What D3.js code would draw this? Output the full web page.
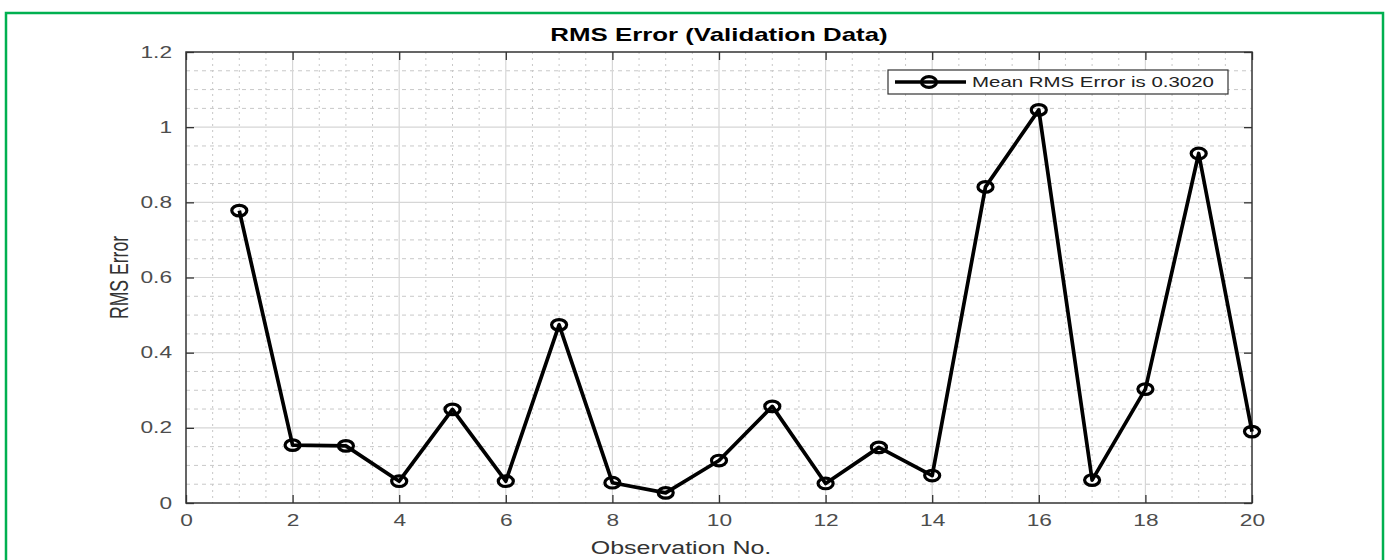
<!DOCTYPE html>
<html>
<head>
<meta charset="utf-8">
<script src="https://cdn.jsdelivr.net/npm/d3@7"></script>
<style>
  html, body { margin: 0; padding: 0; background: #fff; }
  svg { display: block; font-family: "Liberation Sans", Arial, Helvetica, sans-serif; }
</style>
</head>
<body>
<svg id="chart" width="1388" height="560"></svg>
<script>
// RMS error per validation observation
const observations = [1, 2, 3, 4, 5, 6, 7, 8, 9, 10, 11, 12, 13, 14, 15, 16, 17, 18, 19, 20];
const rmsError = [0.778, 0.154, 0.152, 0.058, 0.249, 0.058, 0.474, 0.054, 0.027, 0.113,
                  0.257, 0.052, 0.148, 0.073, 0.841, 1.046, 0.061, 0.303, 0.930, 0.190];

const xTicks = [0, 2, 4, 6, 8, 10, 12, 14, 16, 18, 20];
const yTicks = [0, 0.2, 0.4, 0.6, 0.8, 1.0, 1.2];
const yTickLabels = ["0", "0.2", "0.4", "0.6", "0.8", "1", "1.2"];

const titleText = "RMS Error (Validation Data)";
const xLabelText = "Observation No.";
const yLabelText = "RMS Error";
const legendText = "Mean RMS Error is 0.3020";

// layout
const plot = { left: 186, right: 1252, top: 52, bottom: 503 };
const SX = 1.42; // horizontal stretch applied to all text and markers

const svg = d3.select("#chart");

// outer frame
svg.append("rect")
  .attr("x", 6).attr("y", 13).attr("width", 1377).attr("height", 560)
  .attr("fill", "none").attr("stroke", "#00b050").attr("stroke-width", 2.5);

const x = d3.scaleLinear().domain([0, 20]).range([plot.left, plot.right]);
const y = d3.scaleLinear().domain([0, 1.2]).range([plot.bottom, plot.top]);

// grid: minor first, major on top
const grid = svg.append("g");
const xMinor = d3.range(0, 20.001, 0.5).filter(v => Math.abs(v / 2 - Math.round(v / 2)) > 1e-6);
const yMinor = d3.range(0, 1.2001, 0.05).filter(v => Math.abs(v / 0.2 - Math.round(v / 0.2)) > 1e-6);

grid.selectAll("line.xminor").data(xMinor).join("line")
  .attr("x1", d => x(d)).attr("x2", d => x(d))
  .attr("y1", plot.top).attr("y2", plot.bottom)
  .attr("stroke", "#c8c8c8").attr("stroke-width", 1).attr("stroke-dasharray", "2,4");
grid.selectAll("line.yminor").data(yMinor).join("line")
  .attr("y1", d => y(d)).attr("y2", d => y(d))
  .attr("x1", plot.left).attr("x2", plot.right)
  .attr("stroke", "#c8c8c8").attr("stroke-width", 1).attr("stroke-dasharray", "4,4");
grid.selectAll("line.xmajor").data(xTicks.slice(1, -1)).join("line")
  .attr("x1", d => x(d)).attr("x2", d => x(d))
  .attr("y1", plot.top).attr("y2", plot.bottom)
  .attr("stroke", "#d6d6d6").attr("stroke-width", 1.2);
grid.selectAll("line.ymajor").data(yTicks.slice(1, -1)).join("line")
  .attr("y1", d => y(d)).attr("y2", d => y(d))
  .attr("x1", plot.left).attr("x2", plot.right)
  .attr("stroke", "#d6d6d6").attr("stroke-width", 1.2);

// axes (ticks pointing inward on all four sides)
const axisColor = "#333";
const labelColor = "#4d4d4d";

function styleAxis(g) {
  g.select(".domain").remove();
  g.selectAll(".tick line").attr("stroke", axisColor).attr("stroke-width", 1.3);
  g.selectAll(".tick text").attr("fill", labelColor).attr("font-size", 16);
}

const gx = svg.append("g").attr("transform", `translate(0,${plot.bottom})`)
  .call(d3.axisBottom(x).tickValues(xTicks).tickFormat(d3.format("d"))
        .tickSizeInner(-8).tickSizeOuter(0).tickPadding(12));
styleAxis(gx);
gx.selectAll(".tick text").attr("transform", `scale(${SX},1)`);

const gy = svg.append("g").attr("transform", `translate(${plot.left},0)`)
  .call(d3.axisLeft(y).tickValues(yTicks).tickFormat((d, i) => yTickLabels[i])
        .tickSizeInner(-8).tickSizeOuter(0).tickPadding(10));
styleAxis(gy);
gy.selectAll(".tick text").attr("x", -14 / SX).attr("transform", `scale(${SX},1)`);

const gxt = svg.append("g").attr("transform", `translate(0,${plot.top})`)
  .call(d3.axisTop(x).tickValues(xTicks).tickFormat("").tickSizeInner(-8).tickSizeOuter(0));
styleAxis(gxt);
const gyr = svg.append("g").attr("transform", `translate(${plot.right},0)`)
  .call(d3.axisRight(y).tickValues(yTicks).tickFormat("").tickSizeInner(-8).tickSizeOuter(0));
styleAxis(gyr);

// axes box
svg.append("rect")
  .attr("x", plot.left).attr("y", plot.top)
  .attr("width", plot.right - plot.left).attr("height", plot.bottom - plot.top)
  .attr("fill", "none").attr("stroke", axisColor).attr("stroke-width", 1.5);

// series
const pts = observations.map((o, i) => ({ o, v: rmsError[i] }));
svg.append("path").datum(pts)
  .attr("fill", "none").attr("stroke", "#000").attr("stroke-width", 3.7)
  .attr("stroke-linejoin", "round")
  .attr("d", d3.line().x(d => x(d.o)).y(d => y(d.v)));

svg.append("g").selectAll("ellipse").data(pts).join("ellipse")
  .attr("cx", d => x(d.o)).attr("cy", d => y(d.v))
  .attr("rx", 5.3 * SX).attr("ry", 5.3)
  .attr("fill", "none").attr("stroke", "#000").attr("stroke-width", 3.2);

// text helper: horizontally stretched text
function stretchedText(parent, tx, ty, str, opts) {
  return parent.append("text")
    .attr("transform", `translate(${tx},${ty}) scale(${SX},1)`)
    .attr("text-anchor", opts.anchor || "middle")
    .attr("dominant-baseline", "central")
    .attr("font-size", opts.size)
    .attr("font-weight", opts.weight || "normal")
    .attr("fill", opts.fill || "#000")
    .text(str);
}

// title and axis labels
stretchedText(svg, (plot.left + plot.right) / 2, 35, titleText, { size: 18.2, weight: "bold", fill: "#000" });
stretchedText(svg, 681, 548, xLabelText, { size: 17.6, fill: "#333" });
svg.append("text")
  .attr("transform", `translate(119,${(plot.top + plot.bottom) / 2}) rotate(-90) scale(1,${SX})`)
  .attr("text-anchor", "middle").attr("dominant-baseline", "central")
  .attr("font-size", 17.6).attr("fill", "#333")
  .text(yLabelText);

// legend
const leg = svg.append("g");
leg.append("rect")
  .attr("x", 888).attr("y", 70).attr("width", 340).attr("height", 24)
  .attr("fill", "#fff").attr("stroke", "#333").attr("stroke-width", 1.2);
leg.append("line")
  .attr("x1", 895).attr("x2", 966).attr("y1", 82).attr("y2", 82)
  .attr("stroke", "#000").attr("stroke-width", 3.7);
leg.append("ellipse")
  .attr("cx", 929).attr("cy", 82).attr("rx", 5.3 * SX).attr("ry", 5.3)
  .attr("fill", "none").attr("stroke", "#000").attr("stroke-width", 3.2);
stretchedText(leg, 972, 82.5, legendText, { size: 14.4, anchor: "start", fill: "#222" });
</script>
</body>
</html>
